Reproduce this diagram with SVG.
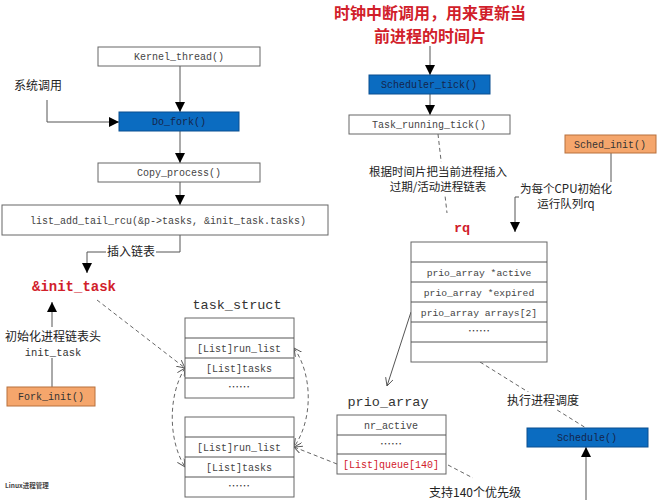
<svg xmlns="http://www.w3.org/2000/svg" width="657" height="500" viewBox="0 0 657 500">
<style>
.box{fill:#fff;stroke:#666;stroke-width:1}
.blue{fill:#0b6cc1;stroke:#0a4f90;stroke-width:1}
.org{fill:#f5a66c;stroke:#b8703c;stroke-width:1}
.m{font-family:"Liberation Mono","Noto Sans CJK SC",monospace;font-size:10px;fill:#444;text-anchor:middle}
.mb{fill:#15254a}
.cn{font-family:"Noto Sans CJK SC",sans-serif;font-size:12px;fill:#222;text-anchor:middle}
.big{font-family:"Liberation Mono","Noto Sans CJK SC",monospace;font-size:14px;fill:#333;text-anchor:middle}
.red{fill:#d1202a}
.ln{fill:none;stroke:#555;stroke-width:1}
.dl{fill:none;stroke:#555;stroke-width:0.9;stroke-dasharray:4 3}
.bg{fill:#fff}
</style>
<defs>
<marker id="a" markerUnits="userSpaceOnUse" markerWidth="11" markerHeight="11" refX="10" refY="5" orient="auto"><path d="M0,0 L10,5 L0,10 z" fill="#000"/></marker>
<marker id="o" markerUnits="userSpaceOnUse" markerWidth="10" markerHeight="10" refX="8" refY="4" orient="auto-start-reverse"><path d="M0,0 L8,4 L0,8" fill="none" stroke="#555" stroke-width="0.9"/></marker>
</defs>

<g id="connectors">
<line class="ln" x1="180" y1="66" x2="180" y2="112" marker-end="url(#a)"/>
<polyline class="ln" points="47,100 47,122 119,122" marker-end="url(#a)"/>
<line class="ln" x1="180" y1="131" x2="180" y2="163" marker-end="url(#a)"/>
<line class="ln" x1="180" y1="182" x2="180" y2="205" marker-end="url(#a)"/>
<polyline class="ln" points="180,235 180,252 87,252 87,273" marker-end="url(#a)"/>
<line class="ln" x1="52" y1="387" x2="52" y2="302" marker-end="url(#a)"/>
<line class="dl" x1="97" y1="300" x2="185" y2="368" marker-end="url(#o)"/>
<path class="dl" d="M185,368 C168,395 168,440 185,467" marker-start="url(#o)" marker-end="url(#o)"/>
<path class="dl" d="M294,348 C313,375 313,420 294,447" marker-start="url(#o)" marker-end="url(#o)"/>
<line class="dl" x1="337" y1="464" x2="294" y2="447" marker-end="url(#o)"/>
<line class="ln" x1="430" y1="46" x2="430" y2="75" marker-end="url(#a)"/>
<line class="ln" x1="430" y1="94" x2="430" y2="115" marker-end="url(#a)"/>
<line class="dl" x1="438" y1="134" x2="447" y2="213"/>
<polyline class="ln" points="611,153 611,197 515,197 515,232" marker-end="url(#a)"/>
<line class="ln" x1="411" y1="312" x2="387" y2="386" marker-end="url(#o)"/>
<line class="dl" x1="480" y1="362" x2="586" y2="428"/>
<line class="ln" x1="586" y1="500" x2="586" y2="447" marker-end="url(#a)"/>
<line class="dl" x1="448" y1="465" x2="473" y2="478"/>
</g>

<g id="kernel_thread"><rect class="box" x="98" y="47" width="162" height="19"/><text class="m" x="179" y="60">Kernel_thread()</text></g>
<g id="syscall_label"><text class="cn" x="38" y="90">系统调用</text></g>
<g id="do_fork"><rect class="blue" x="119" y="112" width="120" height="19"/><text class="m mb" x="179" y="125">Do_fork()</text></g>
<g id="copy_process"><rect class="box" x="98" y="163" width="162" height="19"/><text class="m" x="179" y="176">Copy_process()</text></g>
<g id="list_add"><rect class="box" x="2" y="205" width="326" height="30"/><text class="m" x="168" y="224">list_add_tail_rcu(&amp;p-&gt;tasks, &amp;init_task.tasks)</text></g>
<g id="insert_label"><rect class="bg" x="106" y="244" width="50" height="16"/><text class="cn" x="131" y="256">插入链表</text></g>
<g id="init_task"><text class="big red" x="74" y="291" font-weight="bold">&amp;init_task</text></g>
<g id="init_label"><rect class="bg" x="4" y="327" width="98" height="31"/><text class="cn" x="53" y="341">初始化进程链表头</text><text class="m" x="53" y="356" style="font-size:10.5px;fill:#333">init_task</text></g>
<g id="fork_init"><rect class="org" x="7" y="387" width="88" height="19"/><text class="m" x="51" y="400" style="fill:#333">Fork_init()</text></g>
<g id="watermark"><text x="5" y="488" font-family="Noto Sans CJK SC,sans-serif" font-size="6.5" font-weight="bold" fill="#444">Linux进程管理</text></g>

<g id="task_struct_label"><text class="big" x="237" y="309" style="font-size:13.5px">task_struct</text></g>
<g id="task_struct_1">
<rect class="box" x="185" y="318" width="109" height="80"/>
<line class="ln" x1="185" y1="338" x2="294" y2="338"/><line class="ln" x1="185" y1="358" x2="294" y2="358"/><line class="ln" x1="185" y1="378" x2="294" y2="378"/>
<text class="m" x="239" y="352">[List]run_list</text><text class="m" x="239" y="372">[List]tasks</text><text class="cn" x="239" y="391" style="font-size:11px;fill:#333">……</text>
</g>
<g id="task_struct_2">
<rect class="box" x="185" y="417" width="109" height="80"/>
<line class="ln" x1="185" y1="437" x2="294" y2="437"/><line class="ln" x1="185" y1="457" x2="294" y2="457"/><line class="ln" x1="185" y1="477" x2="294" y2="477"/>
<text class="m" x="239" y="451">[List]run_list</text><text class="m" x="239" y="471">[List]tasks</text><text class="cn" x="239" y="490" style="font-size:11px;fill:#333">……</text>
</g>

<g id="title"><text class="cn red" x="430" y="19" style="font-size:16px;font-weight:bold">时钟中断调用，用来更新当</text><text class="cn red" x="430" y="42" style="font-size:16px;font-weight:bold">前进程的时间片</text></g>
<g id="scheduler_tick"><rect class="blue" x="369" y="75" width="121" height="19"/><text class="m mb" x="429" y="88">Scheduler_tick()</text></g>
<g id="task_running_tick"><rect class="box" x="349" y="115" width="161" height="19"/><text class="m" x="429" y="128">Task_running_tick()</text></g>
<g id="insert_rq_label"><rect class="bg" x="363" y="162" width="152" height="34"/><text class="cn" x="438" y="176" style="font-size:11.5px">根据时间片把当前进程插入</text><text class="cn" x="438" y="191" style="font-size:11.5px">过期/活动进程链表</text></g>
<g id="sched_init"><rect class="org" x="565" y="135" width="91" height="18"/><text class="m" x="610" y="148" style="fill:#333">Sched_init()</text></g>
<g id="cpu_label"><rect class="bg" x="519" y="182" width="94" height="29"/><text class="cn" x="566" y="193" style="font-size:11.5px">为每个CPU初始化</text><text class="cn" x="566" y="208" style="font-size:11.5px">运行队列rq</text></g>
<g id="rq_label"><text class="big red" x="462" y="232" font-weight="bold" style="font-size:13.5px">rq</text></g>
<g id="rq">
<rect class="box" x="411" y="242" width="136" height="120"/>
<line class="ln" x1="411" y1="262" x2="547" y2="262"/><line class="ln" x1="411" y1="282" x2="547" y2="282"/><line class="ln" x1="411" y1="302" x2="547" y2="302"/><line class="ln" x1="411" y1="322" x2="547" y2="322"/><line class="ln" x1="411" y1="342" x2="547" y2="342"/>
<text class="m" x="479" y="276" style="font-size:9.7px">prio_array *active</text>
<text class="m" x="479" y="296" style="font-size:9.7px">prio_array *expired</text>
<text class="m" x="479" y="316" style="font-size:9.7px">prio_array arrays[2]</text>
<text class="cn" x="479" y="335" style="font-size:11px;fill:#333">……</text>
</g>
<g id="prio_array_label"><text class="big" x="388" y="406" style="font-size:13.5px">prio_array</text></g>
<g id="prio_array">
<rect class="box" x="337" y="415" width="109" height="59"/>
<line class="ln" x1="337" y1="435" x2="446" y2="435"/><line class="ln" x1="337" y1="454" x2="446" y2="454"/>
<text class="m" x="391" y="429">nr_active</text>
<text class="cn" x="391" y="448" style="font-size:11px;fill:#333">……</text>
<text class="m red" x="391" y="468">[List]queue[140]</text>
</g>
<g id="schedule_label"><rect class="bg" x="505" y="392" width="76" height="17"/><text class="cn" x="543" y="405">执行进程调度</text></g>
<g id="schedule"><rect class="blue" x="527" y="428" width="121" height="19"/><text class="m mb" x="587" y="441">Schedule()</text></g>
<g id="priority_label"><text class="cn" x="475" y="497">支持140个优先级</text></g>
</svg>
